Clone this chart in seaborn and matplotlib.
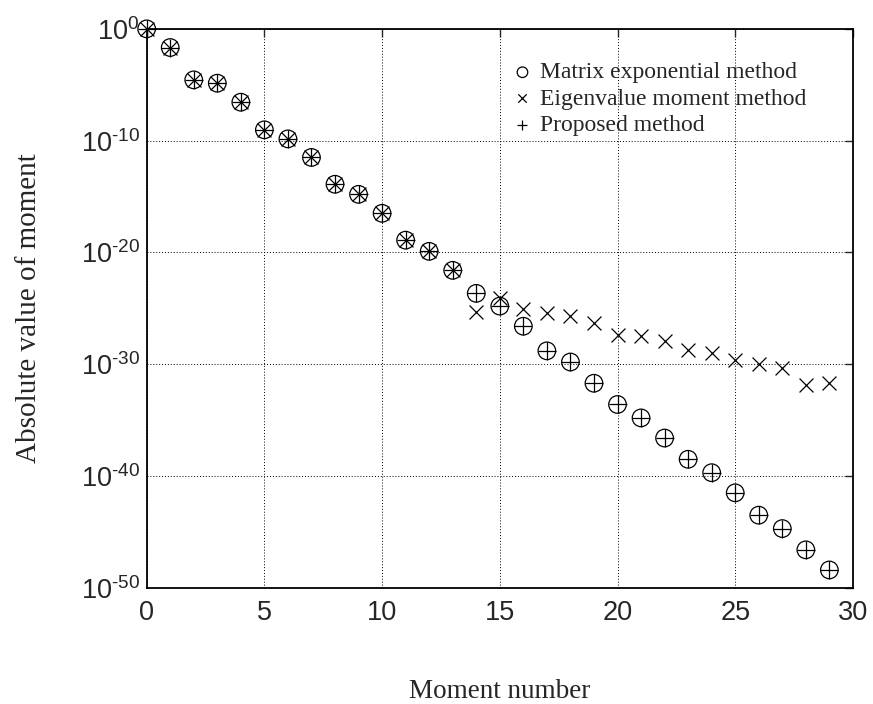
import numpy as np
import pandas as pd
from matplotlib import pyplot as plt
import seaborn as sb

# moment index and log10 of the absolute moment
moment_number = list(range(30))
matrix_exp = [0.0, -1.67, -4.56, -4.86, -6.56, -9.03, -9.84, -11.5, -13.9, -14.8,
              -16.5, -18.9, -19.9, -21.6, -23.66, -24.8, -26.6, -28.8, -29.8, -31.7,
              -33.6, -34.8, -36.6, -38.5, -39.7, -41.5, -43.5, -44.7, -46.6, -48.4]
eigen_moment = [0.0, -1.67, -4.56, -4.86, -6.56, -9.03, -9.84, -11.5, -13.9, -14.8,
                -16.5, -18.9, -19.9, -21.6, -25.3, -24.1, -25.1, -25.4, -25.7, -26.3,
                -27.4, -27.5, -27.9, -28.7, -29.0, -29.6, -30.0, -30.3, -31.9, -31.7]
# proposed method lies on top of the matrix exponential results
proposed = list(matrix_exp)

y_ticks = [0, -10, -20, -30, -40, -50]
x_ticks = [0, 5, 10, 15, 20, 25, 30]

sb.set_style('white')
plt.rcParams['font.family'] = ['Liberation Sans', 'DejaVu Sans']
plt.rcParams['mathtext.fontset'] = 'custom'
plt.rcParams['mathtext.rm'] = 'Liberation Sans'
plt.rcParams['mathtext.it'] = 'Liberation Sans'


def moment_plot(df):
    fig = plt.figure(figsize=(8.73, 7.04), dpi=100)
    ax = fig.add_axes([0.168, 0.165, 0.809, 0.794])

    sb.scatterplot(data=df, x='n', y='matrix', ax=ax, marker='o', s=160,
                   facecolors='none', edgecolor='black', linewidth=0.9,
                   label='Matrix exponential method', clip_on=False, zorder=3)
    sb.scatterplot(data=df, x='n', y='eigen', ax=ax, marker='x', s=100,
                   color='black', linewidth=0.9,
                   label='Eigenvalue moment method', clip_on=False, zorder=3)
    sb.scatterplot(data=df, x='n', y='proposed', ax=ax, marker='+', s=160,
                   color='black', linewidth=0.9,
                   label='Proposed method', clip_on=False, zorder=3)

    ax.set_yscale('log')
    ax.set_xlim(0, 30)
    ax.set_ylim(1e-50, 1e0)
    ax.set_xticks(x_ticks)
    ax.set_xticklabels([str(t) for t in x_ticks])
    ax.set_yticks([10.0 ** t for t in y_ticks])
    # hyphen instead of the long minus, as in the original
    ax.set_yticklabels([r'$10^{\text{%d}}$' % t for t in y_ticks])
    ax.minorticks_off()
    ax.tick_params(direction='in', length=6, width=1, labelsize=19.5, pad=6,
                   top=True, right=True)
    ax.tick_params(axis='x', pad=9)
    ax.tick_params(axis='y', pad=5)
    for s in ax.spines.values():
        s.set_linewidth(1.3)
        s.set_color('black')
    ax.grid(True, linestyle=(0, (1, 2)), color='black', linewidth=0.7)

    ax.set_xlabel('Moment number', fontsize=19.5, family='Liberation Serif', labelpad=38)
    ax.set_ylabel('Absolute value of moment', fontsize=21, family='Liberation Serif', labelpad=28)

    ax.legend(loc='upper left', bbox_to_anchor=(0.497, 0.962), frameon=False,
              prop={'family': 'Liberation Serif', 'size': 17},
              handletextpad=0.2, labelspacing=0.2, markerscale=0.6,
              borderpad=0, handlelength=1.1)
    fig.savefig('out.png', dpi=100)
    return fig, ax


if __name__ == "__main__":
    df = pd.DataFrame({'n': moment_number,
                       'matrix': 10.0 ** np.array(matrix_exp),
                       'eigen': 10.0 ** np.array(eigen_moment),
                       'proposed': 10.0 ** np.array(proposed)})
    moment_plot(df)
